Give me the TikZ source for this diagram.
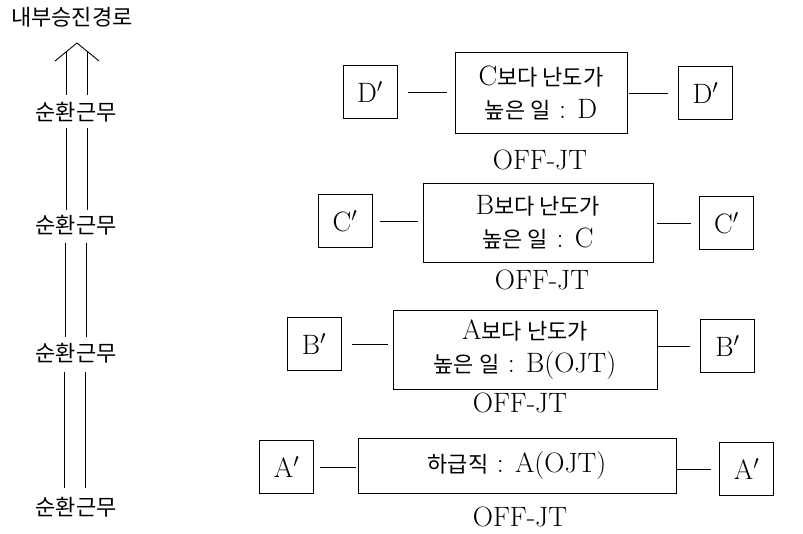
\RequirePackage{fix-cm}
\documentclass[tikz,border=0pt]{standalone}
\usepackage{fontspec}
\newfontfamily\kr{Noto Sans CJK KR}[Scale=0.786]
\usetikzlibrary{calc}
\begin{document}
\begin{tikzpicture}[x=1pt,y=-1pt,
  every node/.style={font=\fontsize{28}{33}\selectfont},
  mainbox/.style={draw, line width=0.9pt, align=center, inner sep=0pt},
  pbox/.style={draw, line width=0.9pt, minimum width=54pt, minimum height=53pt, inner sep=0pt},
  lbl/.style={inner sep=0pt, font=\fontsize{28}{33}\selectfont\kr},
  conn/.style={line width=0.9pt}]
\useasboundingbox (0,0) rectangle (803,533);

% left column
\node[lbl] (title) at (72,17) {내부승진경로};
\node[lbl] (L1) at (76,112) {순환근무};
\node[lbl] (L2) at (76,225) {순환근무};
\node[lbl] (L3) at (76,353) {순환근무};
\node[lbl] (L4) at (76,507) {순환근무};
\coordinate (ah) at (77,43);
\draw[conn] ($(ah)+(-22,18)$) -- (ah) -- ($(ah)+(22,18)$);
\draw[conn] ($(L1)+(-10,-17)$) -- ($(ah)+(-11,9)$);
\draw[conn] ($(L1)+(11,-17)$) -- ($(ah)+(10,8.2)$);
\draw[conn] ($(L2)+(-10,-15)$) -- ($(L1)+(-10,16)$);
\draw[conn] ($(L2)+(11,-15)$) -- ($(L1)+(11,16)$);
\draw[conn] ($(L3)+(-11,-16)$) -- ($(L2)+(-11,18)$);
\draw[conn] ($(L3)+(10,-16)$) -- ($(L2)+(10,18)$);
\draw[conn] ($(L4)+(-12,-19)$) -- ($(L3)+(-12,19)$);
\draw[conn] ($(L4)+(9,-19)$) -- ($(L3)+(9,19)$);

% row D
\node[mainbox, minimum width=172pt, minimum height=81pt] (Dm) at (541,92.5) {C{\kr 보다 난도가}\\{\kr 높은 일} : D};
\node[pbox] (Dl) at (370,92) {D$'$};
\node[pbox] (Dr) at (705.5,93) {D$'$};
\node (Do) at (540,160) {OFF-JT};
\draw[conn, shorten <=11pt, shorten >=8pt] (Dl.east) -- (Dl.east -| Dm.west);
\draw[conn, shorten <=2pt, shorten >=10pt] (Dr.west -| Dm.east) -- (Dr.west);

% row C
\node[mainbox, minimum width=230pt, minimum height=79pt] (Cm) at (538,222.5) {B{\kr 보다 난도가}\\{\kr 높은 일} : C};
\node[pbox] (Cl) at (345,221) {C$'$};
\node[pbox] (Cr) at (726.5,223) {C$'$};
\node (Co) at (542,280) {OFF-JT};
\draw[conn, shorten <=8pt, shorten >=5pt] (Cl.east) -- (Cl.east -| Cm.west);
\draw[conn, shorten <=4pt, shorten >=8pt] (Cr.west -| Cm.east) -- (Cr.west);

% row B
\node[mainbox, minimum width=264pt, minimum height=79pt] (Bm) at (525,349.5) {A{\kr 보다 난도가}\\{\kr 높은 일} : B(OJT)};
\node[pbox] (Bl) at (314,344) {B$'$};
\node[pbox] (Br) at (727.5,346) {B$'$};
\node (Bo) at (520,403) {OFF-JT};
\draw[conn, shorten <=11pt, shorten >=5pt] (Bl.east) -- (Bl.east -| Bm.west);
\draw[conn, shorten <=1pt, shorten >=10pt] (Br.west -| Bm.east) -- (Br.west);

% row A
\node[mainbox, minimum width=318pt, minimum height=55pt] (Am) at (517,465.5) {{\kr 하급직} : A(OJT)};
\node[pbox] (Al) at (286.5,467) {A$'$};
\node[pbox] (Ar) at (746.5,469) {A$'$};
\node (Ao) at (520,517) {OFF-JT};
\draw[conn, shorten <=6pt, shorten >=2pt] (Al.east) -- (Al.east -| Am.west);
\draw[conn, shorten <=1pt, shorten >=8pt] (Ar.west -| Am.east) -- (Ar.west);
\end{tikzpicture}
\end{document}
